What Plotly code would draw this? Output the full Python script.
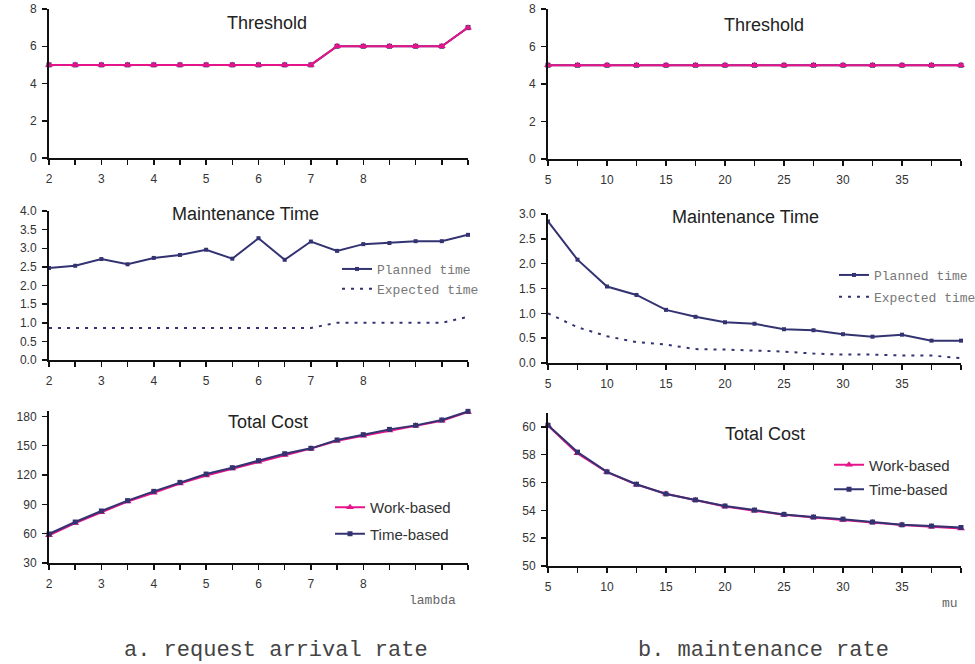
import plotly.graph_objects as go

# ---------------- data ----------------
lam = [2, 2.5, 3, 3.5, 4, 4.5, 5, 5.5, 6, 6.5, 7, 7.5, 8, 8.5, 9, 9.5, 10]
lam_ticktext = ["2", "", "3", "", "4", "", "5", "", "6", "", "7", "", "8", "", "", "", ""]
mu = [5, 7.5, 10, 12.5, 15, 17.5, 20, 22.5, 25, 27.5, 30, 32.5, 35, 37.5, 40]
mu_ticktext = ["5", "", "10", "", "15", "", "20", "", "25", "", "30", "", "35", "", ""]

thr_lam_work = [5, 5, 5, 5, 5, 5, 5, 5, 5, 5, 5, 6, 6, 6, 6, 6, 7]
thr_lam_time = [5, 5, 5, 5, 5, 5, 5, 5, 5, 5, 5, 6, 6, 6, 6, 6, 7]
thr_mu_work = [5, 5, 5, 5, 5, 5, 5, 5, 5, 5, 5, 5, 5, 5, 5]
thr_mu_time = [5, 5, 5, 5, 5, 5, 5, 5, 5, 5, 5, 5, 5, 5, 5]

plan_lam = [2.47, 2.53, 2.71, 2.57, 2.74, 2.82, 2.96, 2.72, 3.27, 2.69, 3.18, 2.93, 3.11, 3.14, 3.19, 3.19, 3.36]
exp_lam = [0.86, 0.86, 0.86, 0.86, 0.86, 0.86, 0.86, 0.86, 0.86, 0.86, 0.86, 1.0, 1.0, 1.0, 1.0, 1.0, 1.16]
plan_mu = [2.85, 2.08, 1.54, 1.37, 1.07, 0.93, 0.82, 0.79, 0.68, 0.66, 0.58, 0.53, 0.57, 0.45, 0.45]
exp_mu = [1.0, 0.72, 0.54, 0.42, 0.37, 0.28, 0.27, 0.25, 0.23, 0.19, 0.17, 0.17, 0.15, 0.15, 0.10]

cost_lam_time = [59.7, 71.9, 83.2, 93.8, 103.3, 112.5, 121.0, 127.5, 134.7, 141.8, 147.3, 155.8, 161.3, 166.7, 170.8, 176.3, 185.1]
cost_lam_work = [58.3, 70.8, 81.9, 92.9, 101.8, 111.3, 119.6, 126.6, 133.6, 140.6, 147.0, 155.0, 160.2, 165.6, 170.3, 175.4, 184.6]
cost_mu_time = [60.12, 58.19, 56.77, 55.88, 55.18, 54.75, 54.31, 54.02, 53.71, 53.52, 53.37, 53.16, 52.96, 52.87, 52.77]
cost_mu_work = [60.10, 58.10, 56.75, 55.85, 55.20, 54.72, 54.28, 53.98, 53.68, 53.48, 53.30, 53.12, 52.95, 52.82, 52.70]

# ---------------- styling ----------------
W, H = 975, 664
PINK = "#E6148A"
NAVY = "#333372"
SANS = "Liberation Sans, Arial, sans-serif"
MONO = "Liberation Mono, Courier New, monospace"


def fx(px):
    return px / W


def fy(px):
    return 1 - px / H


fig = go.Figure()


def add_work_time(x, work, time, xa, ya, legend=None, pink_on_top=True, show=False):
    work_tr = go.Scatter(x=x, y=work, xaxis=xa, yaxis=ya, mode="lines+markers",
                         name="Work-based", line=dict(color=PINK, width=2),
                         marker=dict(symbol="triangle-up", size=7, color=PINK),
                         cliponaxis=False, showlegend=show, legend=legend, legendgroup="w" + xa)
    time_tr = go.Scatter(x=x, y=time, xaxis=xa, yaxis=ya, mode="lines+markers",
                         name="Time-based", line=dict(color=NAVY, width=2),
                         marker=dict(symbol="square", size=5, color=NAVY),
                         cliponaxis=False, showlegend=show, legend=legend, legendgroup="t" + xa)
    if pink_on_top:
        fig.add_trace(time_tr)
        fig.add_trace(work_tr)
    else:
        fig.add_trace(work_tr)
        fig.add_trace(time_tr)


def add_maint(x, plan, exp, xa, ya, legend):
    fig.add_trace(go.Scatter(x=x, y=plan, xaxis=xa, yaxis=ya, mode="lines+markers",
                             name="Planned time", line=dict(color=NAVY, width=2),
                             marker=dict(symbol="square", size=4, color=NAVY),
                             cliponaxis=False, legend=legend, legendgroup="p" + xa))
    fig.add_trace(go.Scatter(x=x, y=exp, xaxis=xa, yaxis=ya, mode="lines",
                             name="Expected time", line=dict(color=NAVY, width=2, dash="3px,6px"),
                             cliponaxis=False, legend=legend, legendgroup="e" + xa))


# top row: thresholds
add_work_time(lam, thr_lam_work, thr_lam_time, "x", "y", pink_on_top=True)
add_work_time(mu, thr_mu_work, thr_mu_time, "x2", "y2", pink_on_top=True)
# middle row: maintenance time
add_maint(lam, plan_lam, exp_lam, "x3", "y3", "legend")
add_maint(mu, plan_mu, exp_mu, "x4", "y4", "legend2")
# bottom row: total cost
add_work_time(lam, cost_lam_work, cost_lam_time, "x5", "y5", legend="legend3", pink_on_top=False, show=True)
add_work_time(mu, cost_mu_work, cost_mu_time, "x6", "y6", legend="legend4", pink_on_top=False, show=True)

tickfont = dict(family=SANS, size=12, color="#333333")


def xaxis_cfg(px0, px1, rng, vals, text, anchor):
    return dict(domain=[fx(px0), fx(px1)], range=rng, anchor=anchor,
                tickmode="array", tickvals=vals, ticktext=text,
                showline=True, linecolor="#111111", linewidth=2,
                ticks="outside", ticklen=5, tickwidth=1.5, tickcolor="#111111",
                showgrid=False, zeroline=False, tickfont=tickfont,
                ticklabelstandoff=4, fixedrange=True, automargin=False)


def yaxis_cfg(py_bottom, py_top, rng, dtick, fmt, anchor):
    return dict(domain=[fy(py_bottom), fy(py_top)], range=rng, anchor=anchor,
                tick0=rng[0], dtick=dtick, tickformat=fmt,
                showline=True, linecolor="#111111", linewidth=2,
                ticks="outside", ticklen=5, tickwidth=1.5, tickcolor="#111111",
                showgrid=False, zeroline=False, tickfont=tickfont,
                ticklabelstandoff=3, fixedrange=True, automargin=False)


LX0, LX1 = 49, 468
RX0, RX1 = 548, 961

fig.update_layout(
    width=W, height=H,
    margin=dict(l=0, r=0, t=0, b=0, autoexpand=False),
    paper_bgcolor="white", plot_bgcolor="white",
    font=dict(family=SANS, color="#333333"),
    xaxis=xaxis_cfg(LX0, LX1, [2, 10], lam, lam_ticktext, "y"),
    yaxis=yaxis_cfg(158, 9, [0, 8], 2, "d", "x"),
    xaxis2=xaxis_cfg(RX0, RX1, [5, 40], mu, mu_ticktext, "y2"),
    yaxis2=yaxis_cfg(159, 9, [0, 8], 2, "d", "x2"),
    xaxis3=xaxis_cfg(LX0, LX1, [2, 10], lam, lam_ticktext, "y3"),
    yaxis3=yaxis_cfg(360, 211, [0, 4], 0.5, ".1f", "x3"),
    xaxis4=xaxis_cfg(RX0, RX1, [5, 40], mu, mu_ticktext, "y4"),
    yaxis4=yaxis_cfg(363, 214, [0, 3], 0.5, ".1f", "x4"),
    xaxis5=xaxis_cfg(LX0, LX1, [2, 10], lam, lam_ticktext, "y5"),
    yaxis5=yaxis_cfg(563, 411, [30, 185.5], 30, "d", "x5"),
    xaxis6=xaxis_cfg(RX0, RX1, [5, 40], mu, mu_ticktext, "y6"),
    yaxis6=yaxis_cfg(566, 413, [50, 61], 2, "d", "x6"),
    legend=dict(x=fx(337), y=fy(254), xanchor="left", yanchor="top",
                bgcolor="rgba(0,0,0,0)", tracegroupgap=0,
                font=dict(family=MONO, size=13, color="#777777")),
    legend2=dict(x=fx(834), y=fy(260), xanchor="left", yanchor="top",
                 bgcolor="rgba(0,0,0,0)", tracegroupgap=2,
                 font=dict(family=MONO, size=13, color="#777777")),
    legend3=dict(x=fx(330), y=fy(491), xanchor="left", yanchor="top",
                 bgcolor="rgba(0,0,0,0)", tracegroupgap=4,
                 font=dict(family=SANS, size=15, color="#333333")),
    legend4=dict(x=fx(829), y=fy(448.5), xanchor="left", yanchor="top",
                 bgcolor="rgba(0,0,0,0)", tracegroupgap=2,
                 font=dict(family=SANS, size=15, color="#333333")),
)

titles = [
    ("Threshold", 267, 23),
    ("Threshold", 764, 25),
    ("Maintenance Time", 246, 214),
    ("Maintenance Time", 745, 217),
    ("Total Cost", 268, 422),
    ("Total Cost", 765, 434),
]
for text, px, py in titles:
    fig.add_annotation(text=text, x=fx(px), y=fy(py), xref="paper", yref="paper",
                       showarrow=False, xanchor="center", yanchor="middle",
                       font=dict(family=SANS, size=18, color="#222222"))

for text, px, py in [("lambda", 432, 600), ("mu", 950, 603)]:
    fig.add_annotation(text=text, x=fx(px), y=fy(py), xref="paper", yref="paper",
                       showarrow=False, xanchor="center", yanchor="middle",
                       font=dict(family=MONO, size=13, color="#666666"))

for text, px, py in [("a. request arrival rate", 276, 650), ("b. maintenance rate", 763, 650)]:
    fig.add_annotation(text=text, x=fx(px), y=fy(py), xref="paper", yref="paper",
                       showarrow=False, xanchor="center", yanchor="middle",
                       font=dict(family=MONO, size=22, color="#444444"))

fig.write_html(
    "out.html",
    config={"displayModeBar": False, "staticPlot": True},
    post_script="document.body.style.margin='0';document.body.style.overflow='hidden';",
)
